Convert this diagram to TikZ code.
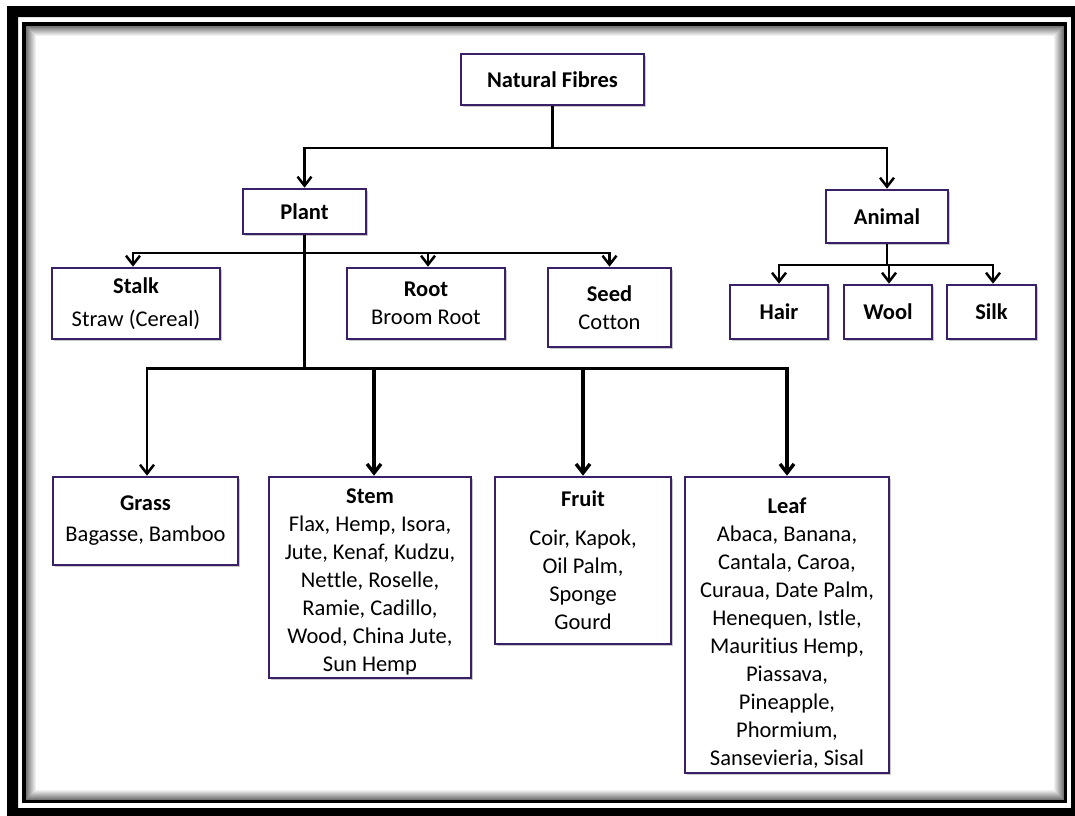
\documentclass[tikz,border=0pt]{standalone}
\usepackage{fontspec}
\setmainfont{Carlito}[Ligatures=NoCommon]
\usetikzlibrary{arrows.meta,shadows}
\definecolor{boxcol}{RGB}{58,32,102}
\tikzset{
  box/.style={rectangle, draw=boxcol, line width=2.6pt, fill=white, inner sep=0pt,
    align=center, font=\fontsize{22.5}{28}\selectfont,
    drop shadow={shadow xshift=1.6pt, shadow yshift=-1.6pt, opacity=0.35, fill=black!60}},
  conn/.style={draw=black, line width=2.5pt},
  arr/.style={conn, -{Straight Barb[length=9pt,width=14pt]}},
  thick arr/.style={arr, line width=3.4pt}
}
\begin{document}
\begin{tikzpicture}[x=1pt,y=-1pt]
\useasboundingbox (0,0) rectangle (1075,815);
\fill[white] (0,0) rectangle (1075,815);
% frame
\begin{scope}
\clip (0,0) rectangle (1075,815);
\fill[black, even odd rule] (7,6) rectangle (1090,830) (18,17) rectangle (1071,808);
\draw[black, line width=4pt] (24,24) rectangle (1065,801);
\foreach \i in {1,...,11}{
  \pgfmathtruncatemacro{\g}{60-5.4*\i}
  \draw[black!\g, line width=1.05pt] (25.5+\i,25.5+\i) rectangle (1064.5-\i,800.5-\i);
}
\end{scope}
% boxes
\node[box, minimum width=183, minimum height=51] (nf) at (552.5,79.5) {\textbf{Natural Fibres}};
\node[box, minimum width=123, minimum height=45] (plant) at (304.5,211.5) {\textbf{Plant}};
\node[box, minimum width=122, minimum height=53] (animal) at (887,216.5) {\textbf{Animal}};
\node[box, minimum width=168, minimum height=71] (stalk) at (136,303.5) {\textbf{Stalk}\\[5pt]Straw (Cereal)};
\node[box, minimum width=158, minimum height=71] (root) at (426,303.5) {\textbf{Root}\\Broom Root};
\node[box, minimum width=123, minimum height=79] (seed) at (609.5,307.5) {\textbf{Seed}\\Cotton};
\node[box, minimum width=98, minimum height=54] (hair) at (779,312) {\textbf{Hair}};
\node[box, minimum width=88, minimum height=54] (wool) at (888,312) {\textbf{Wool}};
\node[box, minimum width=89, minimum height=54] (silk) at (991.5,312) {\textbf{Silk}};
\node[box, minimum width=185, minimum height=88] (grass) at (145.5,521) {\textbf{Grass}\\[3pt]Bagasse, Bamboo};
\node[box, minimum width=202, minimum height=201] (stem) at (370,577.5) {\rule{0pt}{24pt}\textbf{Stem}\\Flax, Hemp, Isora,\\Jute, Kenaf, Kudzu,\\Nettle, Roselle,\\Ramie, Cadillo,\\Wood, China Jute,\\Sun Hemp};
\node[box, minimum width=176, minimum height=167] (fruit) at (583,560.5) {\textbf{Fruit}\\[11pt]Coir, Kapok,\\Oil Palm,\\Sponge\\Gourd};
\node[box, minimum width=204, minimum height=296] (leaf) at (787,625) {\rule{0pt}{31pt}\textbf{Leaf}\\Abaca, Banana,\\Cantala, Caroa,\\Curaua, Date Palm,\\Henequen, Istle,\\Mauritius Hemp,\\Piassava,\\Pineapple,\\Phormium,\\Sansevieria, Sisal};
% connectors: top level
\coordinate (j1) at (nf.south |- 0,148);
\draw[conn] (nf.south) -- (j1);
\draw[arr] (j1) -| (plant.north);
\draw[arr] (j1) -| (animal.north);
% plant: first level
\coordinate (j2) at (plant.south |- 0,253);
\coordinate (j3) at (plant.south |- 0,368);
\draw[conn] (plant.south) -- (j3);
\draw[arr] (j2) -| ([xshift=-3pt]stalk.north);
\draw[arr] (j2) -| ([xshift=2pt]root.north);
\draw[arr] (j2) -| (seed.north);
% plant: second level
\coordinate (gtop) at ([xshift=1.5pt]grass.north);
\coordinate (stop) at ([xshift=4pt]stem.north);
\draw[conn, line width=3pt, line cap=rect] (gtop |- j3) -- (leaf.north |- j3);
\draw[arr] (gtop |- j3) -- (gtop);
\draw[thick arr] (stop |- j3) -- (stop);
\draw[thick arr] (fruit.north |- j3) -- (fruit.north);
\draw[thick arr] (leaf.north |- j3) -- (leaf.north);
% animal
\coordinate (j4) at (animal.south |- 0,265);
\draw[conn] (animal.south) -- (j4);
\draw[arr] (j4) -| (hair.north);
\draw[arr] (j4) -| ([xshift=1pt]wool.north);
\draw[arr] (j4) -| ([xshift=1.5pt]silk.north);
\end{tikzpicture}
\end{document}
